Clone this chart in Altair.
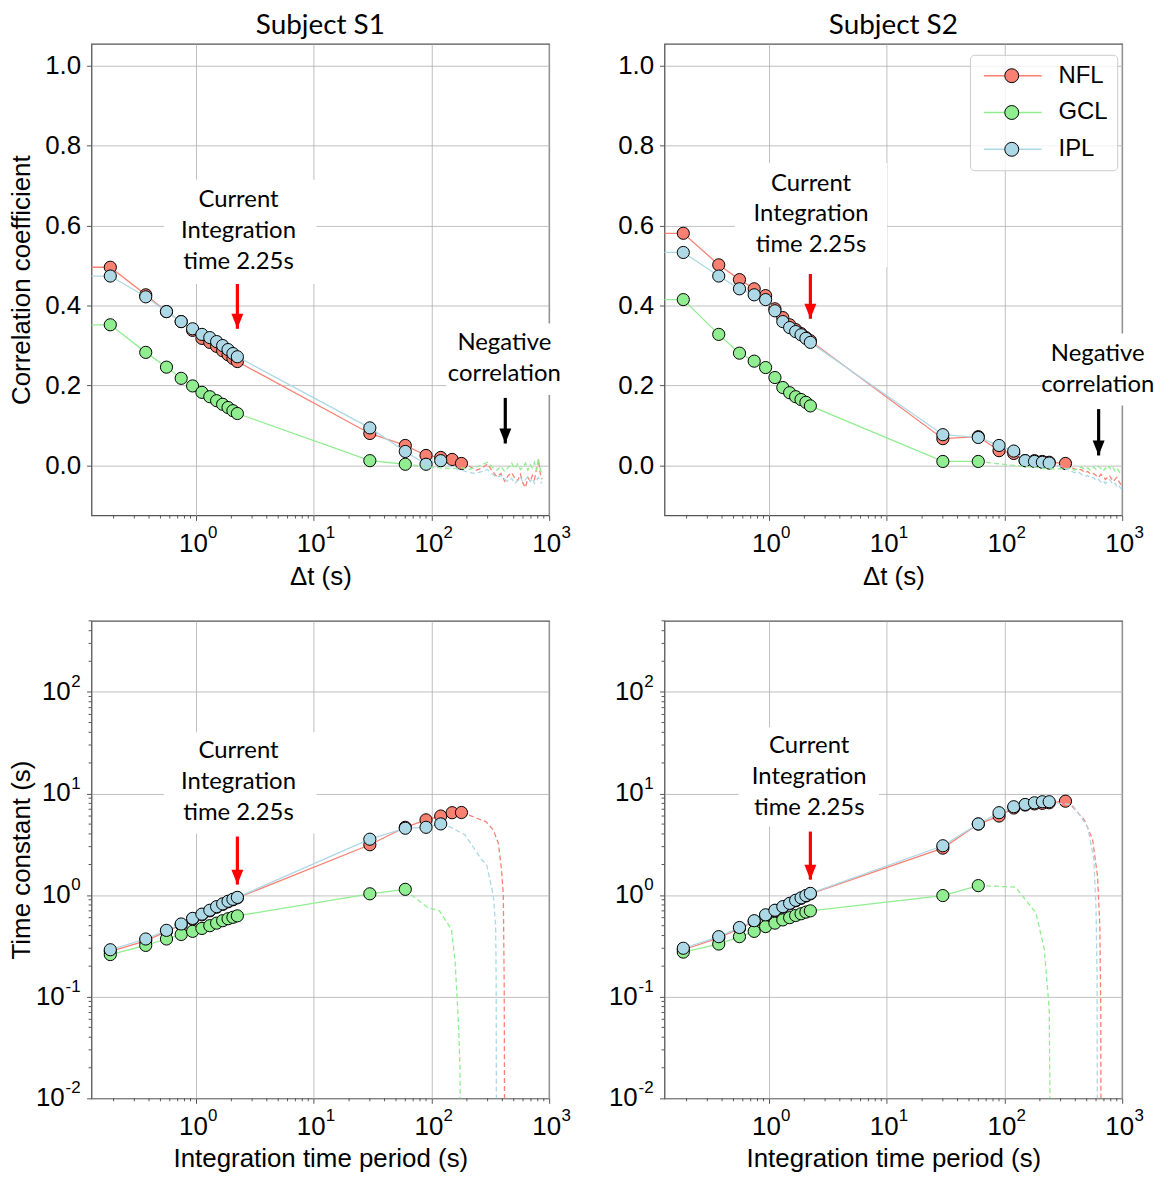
import altair as alt
import pandas as pd

# ---------------- categories / styling lists ----------------
LAYERS = ["NFL", "GCL", "IPL"]
LAYER_KEYS = ["nfl", "gcl", "ipl"]
COLORS = ["#fa8072", "#90ee90", "#add8e6"]

X_TICKS = [1, 10, 100, 1000]
X_EXP = ["0", "1", "2", "3"]
X_MINOR = [0.2, 0.3, 0.4, 0.5, 0.6, 0.7, 0.8, 0.9, 2, 3, 4, 5, 6, 7, 8, 9,
           20, 30, 40, 50, 60, 70, 80, 90, 200, 300, 400, 500, 600, 700, 800, 900]
CORR_TICKS = [0.0, 0.2, 0.4, 0.6, 0.8, 1.0]
TAU_TICKS = [0.01, 0.1, 1, 10, 100]
TAU_POS = [1, 10, 100]
TAU_POS_EXP = ["0", "1", "2"]
TAU_NEG = [0.01, 0.1]
TAU_NEG_EXP = ["-2", "-1"]
TAU_MINOR = [0.02, 0.03, 0.04, 0.05, 0.06, 0.07, 0.08, 0.09, 0.2, 0.3, 0.4, 0.5, 0.6, 0.7, 0.8, 0.9,
             2, 3, 4, 5, 6, 7, 8, 9, 20, 30, 40, 50, 60, 70, 80, 90, 200, 300, 400, 500]

# ---------------- x values ----------------
dt_short = [0.1875, 0.375, 0.5625, 0.75, 0.9375, 1.125, 1.3125, 1.5, 1.6875, 1.875, 2.0625, 2.25]
lead_x = 0.1

# ================= Subject S1 : correlation =================
s1_corr_nfl = [0.496, 0.427, 0.385, 0.36, 0.338, 0.318, 0.308, 0.298, 0.287, 0.277, 0.268, 0.26]
s1_corr_gcl = [0.352, 0.283, 0.246, 0.218, 0.199, 0.183, 0.172, 0.162, 0.153, 0.145, 0.137, 0.13]
s1_corr_ipl = [0.474, 0.422, 0.385, 0.36, 0.342, 0.328, 0.32, 0.31, 0.30, 0.29, 0.28, 0.272]
s1_corr_nfl_lx = [30, 60, 90, 120, 150, 180]
s1_corr_nfl_ly = [0.08, 0.05, 0.025, 0.02, 0.015, 0.005]
s1_corr_gcl_lx = [30, 60]
s1_corr_gcl_ly = [0.012, 0.003]
s1_corr_ipl_lx = [30, 60, 90, 120]
s1_corr_ipl_ly = [0.094, 0.035, 0.003, 0.012]
s1_corr_nfl_dx = [180, 210, 240, 270, 300, 330, 360, 390, 420, 450, 480, 510, 540, 570, 600, 630,
                  660, 690, 720, 750, 780, 810, 840, 870]
s1_corr_nfl_dy = [0.005, -0.002, -0.012, -0.006, 0.004, -0.015, -0.028, -0.02, -0.04, -0.025, -0.018,
                  -0.032, -0.038, -0.022, -0.045, -0.055, -0.03, -0.04, -0.025, -0.035, -0.01, 0.015,
                  -0.02, -0.035]
s1_corr_gcl_dx = [60, 90, 120, 150, 180, 210, 240, 270, 300, 330, 360, 390, 420, 450, 480, 510, 540,
                  570, 600, 630, 660, 690, 720, 750, 780, 810, 840, 870]
s1_corr_gcl_dy = [0.003, -0.003, -0.006, -0.008, -0.006, -0.01, -0.004, 0.002, 0.008, -0.005, -0.012,
                  -0.002, -0.015, -0.005, 0.006, -0.008, 0.004, -0.01, -0.004, 0.006, -0.012, 0.002,
                  -0.006, 0.008, -0.012, 0.018, -0.01, -0.02]
s1_corr_ipl_dx = [120, 150, 180, 210, 240, 270, 300, 330, 360, 390, 420, 450, 480, 510, 540, 570, 600,
                  630, 660, 690, 720, 750, 780, 810, 840, 870]
s1_corr_ipl_dy = [0.012, -0.005, -0.012, -0.018, -0.02, -0.015, -0.01, -0.022, -0.03, -0.025, -0.035,
                  -0.04, -0.032, -0.045, -0.038, -0.03, -0.042, -0.035, -0.028, -0.04, -0.032, -0.045,
                  -0.038, -0.03, -0.04, -0.045]

# ================= Subject S2 : correlation =================
s2_corr_nfl = [0.581, 0.502, 0.465, 0.442, 0.425, 0.392, 0.37, 0.352, 0.34, 0.33, 0.32, 0.312]
s2_corr_gcl = [0.415, 0.328, 0.281, 0.261, 0.245, 0.22, 0.195, 0.182, 0.172, 0.165, 0.158, 0.149]
s2_corr_ipl = [0.533, 0.474, 0.442, 0.427, 0.415, 0.387, 0.36, 0.345, 0.335, 0.327, 0.318, 0.308]
s2_corr_nfl_lx = [30, 60, 90, 120, 150, 180, 210, 240, 330]
s2_corr_nfl_ly = [0.067, 0.072, 0.037, 0.03, 0.012, 0.012, 0.01, 0.008, 0.005]
s2_corr_gcl_lx = [30, 60]
s2_corr_gcl_ly = [0.01, 0.01]
s2_corr_ipl_lx = [30, 60, 90, 120, 150, 180, 210, 240]
s2_corr_ipl_ly = [0.077, 0.07, 0.05, 0.036, 0.012, 0.01, 0.008, 0.006]
s2_corr_nfl_dx = [330, 360, 390, 420, 450, 480, 510, 540, 570, 600, 630, 660, 690, 720, 750, 780, 810,
                  840, 870, 900, 930, 960, 990]
s2_corr_nfl_dy = [0.005, -0.003, -0.008, -0.012, -0.01, -0.018, -0.015, -0.022, -0.02, -0.025, -0.03,
                  -0.022, -0.028, -0.035, -0.03, -0.025, -0.033, -0.04, -0.035, -0.03, -0.038, -0.045,
                  -0.05]
s2_corr_gcl_dx = [60, 90, 120, 150, 180, 210, 240, 270, 300, 330, 360, 390, 420, 450, 480, 510, 540,
                  570, 600, 630, 660, 690, 720, 750, 780, 810, 840, 870, 900, 930, 960, 990]
s2_corr_gcl_dy = [0.01, 0.004, 0.0, -0.003, -0.005, -0.007, -0.008, -0.009, -0.008, -0.01, -0.006,
                  -0.012, -0.008, -0.004, -0.01, -0.006, -0.012, -0.004, -0.01, -0.002, -0.008, -0.014,
                  -0.006, -0.01, -0.003, -0.012, -0.006, -0.014, -0.008, -0.012, -0.02, -0.016]
s2_corr_ipl_dx = [240, 270, 300, 330, 360, 390, 420, 450, 480, 510, 540, 570, 600, 630, 660, 690, 720,
                  750, 780, 810, 840, 870, 900, 930, 960, 990]
s2_corr_ipl_dy = [0.006, 0.002, -0.002, -0.008, -0.012, -0.018, -0.015, -0.022, -0.028, -0.025, -0.032,
                  -0.03, -0.038, -0.035, -0.042, -0.038, -0.045, -0.04, -0.035, -0.042, -0.048, -0.045,
                  -0.052, -0.048, -0.055, -0.06]

# ================= Subject S1 : time constant =================
s1_tau_nfl = [0.28, 0.355, 0.44, 0.51, 0.58, 0.64, 0.70, 0.76, 0.81, 0.86, 0.90, 0.94]
s1_tau_gcl = [0.26, 0.32, 0.37, 0.41, 0.44, 0.47, 0.50, 0.53, 0.56, 0.585, 0.605, 0.625]
s1_tau_ipl = [0.29, 0.37, 0.45, 0.52, 0.59, 0.65, 0.71, 0.77, 0.82, 0.87, 0.91, 0.95]
s1_tau_nfl_lx = [30, 60, 90, 120, 150, 180]
s1_tau_nfl_ly = [3.13, 4.65, 5.5, 6.0, 6.47, 6.5]
s1_tau_gcl_lx = [30, 60]
s1_tau_gcl_ly = [1.03, 1.14]
s1_tau_ipl_lx = [30, 60, 90, 120]
s1_tau_ipl_ly = [3.55, 4.55, 4.65, 5.02]
s1_tau_nfl_dx = [180, 206, 290, 335, 370, 394, 408, 415, 420]
s1_tau_nfl_dy = [6.5, 6.15, 5.29, 4.39, 3.24, 1.78, 1.0, 0.129, 0.001]
s1_tau_gcl_dx = [60, 68, 94, 117, 148, 159, 169, 175, 177]
s1_tau_gcl_dy = [1.14, 1.0, 0.75, 0.70, 0.46, 0.218, 0.061, 0.02, 0.001]
s1_tau_ipl_dx = [120, 139, 193, 267, 294, 335, 351, 355, 357]
s1_tau_ipl_dy = [5.02, 4.79, 3.92, 2.23, 2.0, 1.0, 0.5, 0.129, 0.001]

# ================= Subject S2 : time constant =================
s2_tau_nfl = [0.29, 0.38, 0.47, 0.55, 0.63, 0.70, 0.76, 0.82, 0.88, 0.93, 0.98, 1.03]
s2_tau_gcl = [0.275, 0.33, 0.39, 0.44, 0.49, 0.53, 0.57, 0.60, 0.63, 0.655, 0.68, 0.70]
s2_tau_ipl = [0.30, 0.39, 0.48, 0.56, 0.64, 0.71, 0.77, 0.83, 0.89, 0.94, 0.99, 1.04]
s2_tau_nfl_lx = [30, 60, 90, 120, 150, 180, 210, 240, 330]
s2_tau_nfl_ly = [2.9, 5.0, 6.0, 7.2, 7.7, 7.9, 8.0, 8.1, 8.4]
s2_tau_gcl_lx = [30, 60]
s2_tau_gcl_ly = [0.99, 1.24]
s2_tau_ipl_lx = [30, 60, 90, 120, 150, 180, 210, 240]
s2_tau_ipl_ly = [3.06, 5.02, 6.47, 7.41, 7.8, 8.1, 8.3, 8.3]
s2_tau_nfl_dx = [330, 379, 477, 561, 618, 646, 658, 662]
s2_tau_nfl_dy = [8.4, 7.41, 5.5, 3.5, 1.53, 0.5, 0.076, 0.001]
s2_tau_gcl_dx = [60, 124, 185, 218, 240, 248]
s2_tau_gcl_dy = [1.24, 1.2, 0.67, 0.295, 0.076, 0.001]
s2_tau_ipl_dx = [240, 379, 508, 575, 600, 612, 617]
s2_tau_ipl_dy = [8.3, 7.7, 4.73, 2.24, 0.72, 0.16, 0.001]

# ================= annotations (data coordinates) =================
CURRENT_TEXT = ["Current", "Integration", "time 2.25s"]
NEG_TEXT = ["Negative", "correlation"]
# (text x, text y, box x0, box x1, box y0, box y1, arrow x, arrow tail y, arrow tip y)
ann_s1_corr_cur = [2.3, 0.586, 0.535, 10.6, 0.454, 0.715, 2.25, 0.454, 0.342]
ann_s1_corr_neg = [416, 0.267, 134, 1290, 0.176, 0.355, 424, 0.169, 0.055]
ann_s2_corr_cur = [2.28, 0.628, 0.514, 10.1, 0.496, 0.757, 2.25, 0.479, 0.367]
ann_s2_corr_neg = [620, 0.239, 205, 1500, 0.15, 0.33, 631, 0.141, 0.025]
ann_s1_tau_cur = [2.3, 13.0, 0.535, 10.6, 4.04, 40.0, 2.25, 3.77, 1.27]
ann_s2_tau_cur = [2.2, 14.6, 0.556, 8.6, 4.73, 44.9, 2.25, 4.22, 1.42]

# ---------------- layout ----------------
W = 460
H_TOP = 474
H_BOT = 480
FONT_AX = "Liberation Sans"
FONT_TXT = "Lato"
ARROW_HEAD = "M-0.8,-2L0.8,-2L0,0Z"
LEG_LINE = "M-1,0H2M4,0H7.3"
AX_COLOR = "#555555"
LINE_H = 31


def series_for(kind, subj):
    g = globals()
    out = {}
    for lay in LAYERS:
        p = f"{subj}_{kind}_{lay.lower()}"
        out[lay] = (g[p], g[p + "_lx"], g[p + "_ly"], g[p + "_dx"], g[p + "_dy"])
    return out


def panel(kind, subj, anns, left, title=None, legend=False):
    top = kind == "corr"
    H = H_TOP if top else H_BOT
    xscale = alt.Scale(type="log", domain=[0.13, 1000], nice=False)
    xaxis = alt.Axis(values=X_TICKS, labelExpr="'10'", grid=True, labelFlush=False,
                     labelOverlap=False, labelPadding=10, labelOffset=-3, titlePadding=7,
                     title="\u0394t (s)" if top else "Integration time period (s)")
    yk = dict(grid=True, labelFlush=False, labelOverlap=False, labelPadding=6)
    if left:
        yk.update(title="Correlation coefficient" if top else "Time constant (s)",
                  titleX=-57, titleY=H / 2, titleAngle=-90, titleBaseline="bottom",
                  titleAlign="center")
    else:
        yk.update(title=None)
    if top:
        yscale = alt.Scale(domain=[-0.125, 1.055], nice=False, zero=False)
        yaxis = alt.Axis(values=CORR_TICKS, format=".1f", **yk)
    else:
        yscale = alt.Scale(type="log", domain=[0.01, 500], nice=False)
        yaxis = alt.Axis(values=TAU_TICKS, labels=False, **yk)
    X = alt.X("x:Q", scale=xscale, axis=xaxis)
    Y = alt.Y("y:Q", scale=yscale, axis=yaxis)

    if legend:
        legA = alt.Legend(orient="none", legendX=W - 14 - 139, legendY=11, title=None,
                          symbolType=LEG_LINE, symbolSize=196, symbolStrokeWidth=1.5,
                          labelFont=FONT_AX, labelFontSize=24, labelOffset=56, padding=9,
                          rowPadding=13, strokeColor="#cccccc",
                          fillColor="rgba(255,255,255,0.8)", cornerRadius=4, labelColor="black")
        legB = alt.Legend(orient="none", legendX=W - 14 - 139 + 21, legendY=11, title=None,
                          symbolType="circle", symbolSize=196, symbolStrokeWidth=1,
                          symbolStrokeColor="black", symbolOpacity=1,
                          labelFont=FONT_AX, labelFontSize=24, labelOffset=56, padding=9,
                          rowPadding=13, labelOpacity=0)
    else:
        legA = None
        legB = None
    cscale = alt.Scale(domain=LAYERS, range=COLORS)
    fscale = alt.Scale(domain=LAYER_KEYS, range=COLORS)

    layers = []
    # white text boxes
    for a in anns:
        bdf = pd.DataFrame({"x": [a[2]], "x2": [a[3]], "y": [a[4]], "y2": [a[5]]})
        layers.append(alt.Chart(bdf).mark_rect(color="white").encode(x=X, x2="x2", y=Y, y2="y2"))
    # minor ticks
    layers.append(alt.Chart(pd.DataFrame({"x": X_MINOR})).mark_tick(
        color=AX_COLOR, thickness=1, size=3, opacity=1).encode(x=X, y=alt.value(H + 1.5)))
    # x exponents
    layers.append(alt.Chart(pd.DataFrame({"x": X_TICKS, "e": X_EXP})).mark_text(
        font=FONT_AX, fontSize=17, align="center", baseline="alphabetic", dx=17, color="black"
    ).encode(x=X, y=alt.value(H + 23), text="e:N"))
    if not top:
        layers.append(alt.Chart(pd.DataFrame({"y": TAU_MINOR})).mark_tick(
            color=AX_COLOR, thickness=1, size=3, opacity=1).encode(y=Y, x=alt.value(-1.5)))
        layers.append(alt.Chart(pd.DataFrame({"y": TAU_POS})).mark_text(
            text="10", font=FONT_AX, fontSize=26, align="right", baseline="middle", color="black"
        ).encode(y=Y, x=alt.value(-21)))
        layers.append(alt.Chart(pd.DataFrame({"y": TAU_NEG})).mark_text(
            text="10", font=FONT_AX, fontSize=26, align="right", baseline="middle", color="black"
        ).encode(y=Y, x=alt.value(-27)))
        layers.append(alt.Chart(pd.DataFrame({"y": TAU_POS + TAU_NEG, "e": TAU_POS_EXP + TAU_NEG_EXP})
                                ).mark_text(font=FONT_AX, fontSize=17, align="right",
                                            baseline="middle", dy=-10, color="black"
                                            ).encode(y=Y, x=alt.value(-11), text="e:N"))

    ser = series_for(kind, subj)
    for lay, key in zip(LAYERS, LAYER_KEYS):
        short, lx, ly, dx, dy = ser[lay]
        xs = ([lead_x] if top else []) + dt_short + lx
        ys = ([short[0]] if top else []) + short + ly
        ldf = pd.DataFrame({"x": xs, "y": ys, "layer": lay, "i": list(range(len(xs)))})
        layers.append(alt.Chart(ldf).mark_line(clip=True, strokeWidth=1.3).encode(
            x=X, y=Y, order="i:Q", color=alt.Color("layer:N", scale=cscale, legend=legA)))
        pdf = pd.DataFrame({"x": dt_short + lx, "y": short + ly, "layer2": key})
        layers.append(alt.Chart(pdf).mark_point(filled=True, size=150, stroke="black",
                                                strokeWidth=1, opacity=1).encode(
            x=X, y=Y, fill=alt.Fill("layer2:N", scale=fscale, legend=legB)))
    for lay in LAYERS:
        short, lx, ly, dx, dy = ser[lay]
        ddf = pd.DataFrame({"x": dx, "y": dy, "layer": lay, "i": list(range(len(dx)))})
        layers.append(alt.Chart(ddf).mark_line(clip=True, strokeWidth=1.3, strokeDash=[5, 3]).encode(
            x=X, y=Y, order="i:Q", color=alt.Color("layer:N", scale=cscale, legend=legA)))

    for k, a in enumerate(anns):
        txt = CURRENT_TEXT if k == 0 else NEG_TEXT
        col = "red" if k == 0 else "black"
        shift = -(len(txt) - 1) * LINE_H / 2
        tdf = pd.DataFrame({"x": [a[0]], "y": [a[1]]})
        layers.append(alt.Chart(tdf).mark_text(text=txt, font=FONT_TXT, fontSize=24,
                                               lineHeight=LINE_H, align="center",
                                               baseline="middle", dy=shift,
                                               color="black").encode(x=X, y=Y))
        rdf = pd.DataFrame({"x": [a[6]], "y": [a[7]], "y2": [a[8]]})
        layers.append(alt.Chart(rdf).mark_rule(color=col, strokeWidth=3.2).encode(x=X, y=Y, y2="y2"))
        hdf = pd.DataFrame({"x": [a[6]], "y": [a[8]]})
        layers.append(alt.Chart(hdf).mark_point(shape=ARROW_HEAD, size=225, filled=True, color=col,
                                                opacity=1, strokeWidth=0).encode(x=X, y=Y))

    ch = alt.layer(*layers).properties(width=W, height=H)
    if title:
        ch = ch.properties(title=alt.TitleParams(title, font=FONT_TXT, fontSize=28,
                                                 fontWeight="normal", offset=4, anchor="middle"))
    return ch


p11 = panel("corr", "s1", [ann_s1_corr_cur, ann_s1_corr_neg], True, title="Subject S1")
p12 = panel("corr", "s2", [ann_s2_corr_cur, ann_s2_corr_neg], False, title="Subject S2", legend=True)
p21 = panel("tau", "s1", [ann_s1_tau_cur], True)
p22 = panel("tau", "s2", [ann_s2_tau_cur], False)

ind = dict(color="independent", fill="independent")
chart = (
    alt.concat(p11, p12, p21, p22, columns=2, spacing={"row": 106, "column": 116}, bounds="flush")
    .resolve_scale(**ind)
    .resolve_legend(**ind)
    .properties(padding={"left": 0, "top": 0, "right": 0, "bottom": 0})
    .configure_view(stroke=AX_COLOR, strokeWidth=1.3)
    .configure_axis(domain=False, gridColor="#b0b0b0", gridWidth=0.8, tickColor=AX_COLOR,
                    tickSize=5, tickWidth=1, labelFont=FONT_AX, labelFontSize=26,
                    labelColor="black", titleFont=FONT_AX, titleFontSize=26,
                    titleFontWeight="normal", titleColor="black")
)

chart.save("out.html", embed_options={"renderer": "svg", "actions": False})
